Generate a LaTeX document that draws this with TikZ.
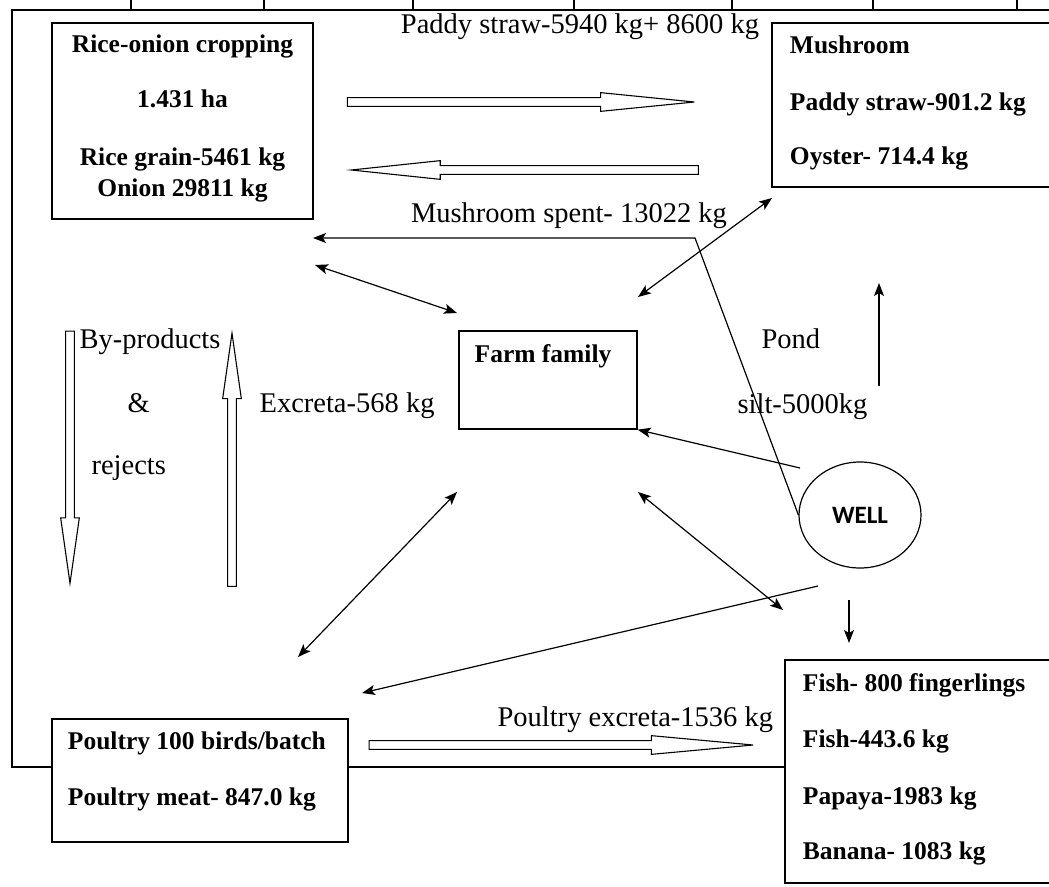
\documentclass[tikz,border=0pt]{standalone}
\usepackage{fontspec}
\setmainfont{Liberation Serif}
\newfontfamily\wellfont{Carlito}
\usetikzlibrary{arrows.meta,shapes.geometric,shapes.arrows}

\tikzset{
  box/.style={draw, rectangle, line width=1.3pt, inner sep=0pt},
  boxtext/.style={inner sep=0pt, font=\fontsize{25.5}{30}\selectfont\bfseries},
  plain/.style={inner sep=0pt, font=\fontsize{28.5}{34}\selectfont},
  hollow/.style={single arrow, draw, line width=1.1pt, inner xsep=0pt,
    inner ysep=3.8pt, minimum width=1pt, single arrow head extend=5pt},
}

\begin{document}
\begin{tikzpicture}[x=1pt, y=-1pt, line width=1.2pt, ->,
    >={Stealth[length=13pt, width=10pt, inset=3pt]}]
    \useasboundingbox (0,0) rectangle (1049,886);

    % outer frame
    \draw[-, line width=1.3pt] (52,767) -| (12,10) -- (1049,10);
    \draw[-, line width=1.3pt] (348,767) -- (785,767);
    \foreach \tx in {131,264,413,574,732,873,1017}
        \draw[-, line width=1.3pt] (\tx,0) -- (\tx,10);

    \path
    (182.5,121) node[box, minimum width=261pt, minimum height=196pt] (rice) {}
    (rice.north) ++(0,30) node[boxtext, anchor=base] (riceA) {Rice-onion cropping}
    (rice.north) ++(0,85) node[boxtext, anchor=base] (riceB) {1.431 ha}
    (rice.north) ++(0,143) node[boxtext, anchor=base] (riceC) {Rice grain-5461 kg}
    (rice.north) ++(0,174) node[boxtext, anchor=base] (riceD) {Onion 29811 kg};

    \path
    (916,105) node[box, minimum width=288pt, minimum height=164pt] (mush) {}
    (mush.north west) ++(18,31) node[boxtext, anchor=base west] (mushA) {Mushroom}
    (mush.north west) ++(18,88) node[boxtext, anchor=base west] (mushB) {Paddy straw-901.2 kg}
    (mush.north west) ++(18,142) node[boxtext, anchor=base west] (mushC) {Oyster- 714.4 kg};

    \path
    (548,380) node[box, minimum width=178pt, minimum height=98pt] (farm) {}
    (farm.north) ++(-5,32) node[boxtext, anchor=base] (farmA) {Farm family};

    \node[draw, ellipse, minimum width=122pt, minimum height=106pt, inner sep=0pt,
        font=\wellfont\bfseries\fontsize{25}{28}\selectfont] (well) at (860,515) {WELL};

    \path
    (200,780.5) node[box, minimum width=296pt, minimum height=123pt] (poultry) {}
    (poultry.north west) ++(16,31) node[boxtext, anchor=base west] (poultryA) {Poultry 100 birds/batch}
    (poultry.north west) ++(16,87) node[boxtext, anchor=base west] (poultryB) {Poultry meat- 847.0 kg};

    \path
    (922.5,771.5) node[box, minimum width=275pt, minimum height=223pt] (fish) {}
    (fish.north west) ++(18,32) node[boxtext, anchor=base west] (fishA) {Fish- 800 fingerlings}
    (fish.north west) ++(18,88) node[boxtext, anchor=base west] (fishB) {Fish-443.6 kg}
    (fish.north west) ++(18,145) node[boxtext, anchor=base west] (fishC) {Papaya-1983 kg}
    (fish.north west) ++(18,200) node[boxtext, anchor=base west] (fishD) {Banana- 1083 kg};

    % hollow flow arrows
    \node[hollow, minimum height=347pt, single arrow tip angle=11.4] (strawfwd) at (499,102) {};
    \node[hollow, minimum height=347pt, single arrow tip angle=12, rotate=180] (strawback) at (545.5,170) {};
    \node[hollow, minimum height=252pt, single arrow tip angle=16.3, rotate=-90] (byprod) at (70,442) {};
    \node[hollow, minimum height=253pt, single arrow tip angle=16.3, rotate=90] (excreta) at (232,475) {};
    \node[hollow, minimum height=384pt, single arrow tip angle=10.5] (pexcreta) at (537.5,745) {};

    \path
    (580,33) node[plain, anchor=base] (strawlbl) {Paddy straw-5940 kg+ 8600 kg}
    (569,222) node[plain, anchor=base] (spentlbl) {Mushroom spent- 13022 kg}
    (79,348) node[plain, anchor=base west] (byprodA) {By-products}
    (127,412) node[plain, anchor=base west] (byprodB) {\&}
    (91,474) node[plain, anchor=base west] (byprodC) {rejects}
    (259,412) node[plain, anchor=base west] (excretalbl) {Excreta-568 kg}
    (761,348) node[plain, anchor=base west] (pondA) {Pond}
    (737,413) node[plain, anchor=base west] (pondB) {silt-5000kg}
    (497,726) node[plain, anchor=base west] (pexcretalbl) {Poultry excreta-1536 kg};

    % free ends of the thin arrows
    \coordinate (spentturn) at (695,238);
    \coordinate (spentend) at (313,238);
    \coordinate (riceside) at (315,265);
    \coordinate (farmnw) at (457,313);
    \coordinate (mushside) at (772,198);
    \coordinate (farmne) at (638,297);
    \coordinate (wellnw) at (800,468);
    \coordinate (siltfoot) at (879,386);
    \coordinate (silttop) at (879,283);
    \coordinate (wellfoot) at (849,600);
    \coordinate (fishtop) at (849,643);
    \coordinate (farmse) at (638,492);
    \coordinate (fishside) at (783,610);
    \coordinate (farmsw) at (457,492);
    \coordinate (poultryside) at (298,657);
    \coordinate (wellsw) at (818,586);
    \coordinate (poultrytop) at (362,693);

    \draw (well.west) -- (spentturn) -- (spentend);
    \draw[<->] (riceside) -- (farmnw);
    \draw[<->] (mushside) -- (farmne);
    \draw (wellnw) -- (farm.south east);
    \draw (siltfoot) -- (silttop);
    \draw (wellfoot) -- (fishtop);
    \draw[<->] (farmse) -- (fishside);
    \draw[<->] (farmsw) -- (poultryside);
    \draw (wellsw) -- (poultrytop);
\end{tikzpicture}
\end{document}
